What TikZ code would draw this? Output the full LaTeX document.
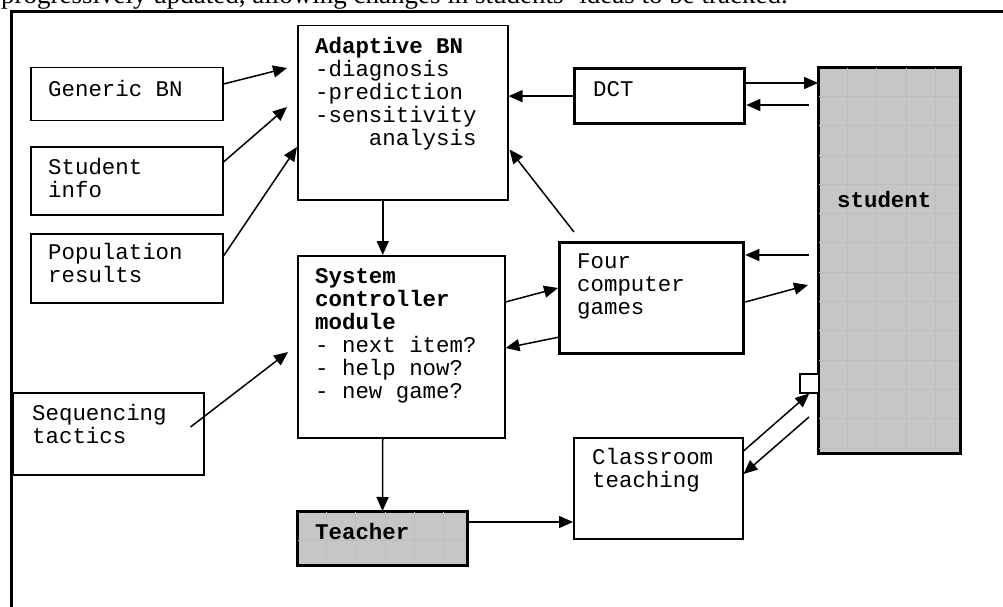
\documentclass[tikz,border=0pt]{standalone}
\usepackage{fontspec}
\setmainfont{Liberation Serif}
\newfontfamily\courfont{Liberation Mono}
\usetikzlibrary{arrows.meta}

\begin{document}
\begin{tikzpicture}[x=1pt,y=-1pt,
    box/.style={draw,line width=1.5pt,anchor=north west,inner sep=0pt},
    thickbox/.style={box,line width=3.3pt},
    greybox/.style={box,line width=2pt,fill=gray!45},
    gridline/.style={draw=gray!52,line width=0.8pt},
    txt/.style={anchor=base west,inner sep=0pt,align=left,
      font=\courfont\fontsize{22.4}{23}\selectfont},
    flow/.style={-{Triangle[length=14pt,width=12pt]},line width=1.5pt}]
  \useasboundingbox (0,0) rectangle (1003,607);
  \clip (0,0) rectangle (1003,607);
  % caption line cut by the top edge
  \node[anchor=base west,inner sep=0pt,font=\fontsize{27}{30}\selectfont] (caption)
    at (1,3.5) {progressively updated, allowing changes in students' ideas to be tracked.};
  \draw[line width=3pt] (11,607) -- (11,11.5) -- (1003,11.5);
  % boxes
  \node[box,minimum width=210pt,minimum height=174pt] (adapt) at (297,25) {};
  \node[box,minimum width=192pt,minimum height=53pt] (generic) at (30,67) {};
  \node[box,minimum width=192pt,minimum height=68pt] (info) at (30,146) {};
  \node[box,minimum width=192pt,minimum height=69pt] (popul) at (30,233) {};
  \node[box,minimum width=207pt,minimum height=182pt] (ctrl) at (297,255) {};
  \node[box,minimum width=191pt,minimum height=82pt] (seq) at (12,392) {};
  \node[box,minimum width=169pt,minimum height=101pt] (class) at (573,437) {};
  \node[thickbox,minimum width=170pt,minimum height=55pt] (dct) at (573,67) {};
  \node[thickbox,minimum width=184pt,minimum height=111pt] (games) at (558,241) {};
  \node[greybox,minimum width=169pt,minimum height=53pt] (teacher) at (297,511) {};
  \node[greybox,minimum width=141pt,minimum height=385pt] (student) at (818,67) {};
  \begin{scope}[shift={(297,511)}]
    \draw[gridline] (1pt,-52pt) grid[step=29.3pt] (168pt,-1pt);
  \end{scope}
  \begin{scope}[shift={(818,67)}]
    \draw[gridline] (1pt,-384pt) grid[step=29.3pt] (140pt,-1pt);
  \end{scope}
  \draw[line width=1.5pt] (teacher.north west) rectangle (teacher.south east);
  \draw[line width=2pt] (student.north west) rectangle (student.south east);
  \node[box,fill=white,minimum width=19pt,minimum height=19pt] (port) at (799,373) {};
  % texts (placed at the baseline of their last line)
  \node[txt] (adapt-t) at (315,145) {\textbf{Adaptive BN}\\-diagnosis\\-prediction\\-sensitivity\\\phantom{----}analysis};
  \node[txt] (generic-t) at (48,97) {Generic BN};
  \node[txt] (info-t) at (48,197) {Student\\info};
  \node[txt] (popul-t) at (48,282) {Population\\results};
  \node[txt] (ctrl-t) at (315,398) {\textbf{System}\\\textbf{controller}\\\textbf{module}\\- next item?\\- help now?\\- new game?};
  \node[txt] (seq-t) at (32,443) {Sequencing\\tactics};
  \node[txt] (teacher-t) at (315,539) {\textbf{Teacher}};
  \node[txt] (dct-t) at (593,97) {DCT};
  \node[txt] (games-t) at (577,314) {Four\\computer\\games};
  \node[txt] (student-t) at (837,207) {\textbf{student}};
  \node[txt] (class-t) at (592,487) {Classroom\\teaching};
  % arrow end points
  \coordinate (dctA) at ([yshift=-16pt]dct.north east);
  \coordinate (dctB) at ([yshift=-38pt]dct.north east);
  \coordinate (gmA) at ([yshift=-14pt]games.north east);
  \coordinate (gmB) at ([yshift=-61pt]games.north east);
  \coordinate (stB) at ([xshift=-10pt,yshift=-218pt]student.north west);
  \coordinate (stC) at ([xshift=-9pt,yshift=-350pt]student.north west);
  \coordinate (tchA) at ([yshift=-11pt]teacher.north east);
  \begin{scope}[flow]
    \draw ([yshift=-17pt]generic.north east) -- ([xshift=-10pt,yshift=-43pt]adapt.north west);
    \draw ([yshift=-16pt]info.north east) -- ([xshift=-10pt,yshift=-82pt]adapt.north west);
    \draw ([yshift=-23pt]popul.north east) -- ([yshift=-122pt]adapt.north west);
    \draw ([xshift=-20pt]adapt.south) -- ([xshift=-18.5pt]ctrl.north);
    \draw (dct.west) -- (dct.west -| adapt.east);
    \draw (dctA) -- (dctA -| student.west);
    \draw[shorten <=9pt] (dctB -| student.west) -- (dctB);
    \draw ([xshift=16pt,yshift=9pt]games.north west) -- ([xshift=1pt,yshift=51pt]adapt.south east);
    \draw[shorten <=9pt] (gmA -| student.west) -- (gmA);
    \draw (gmB) -- (stB);
    \draw ([yshift=-47pt]ctrl.north east) -- ([yshift=-47pt]games.north west);
    \draw ([yshift=18pt]games.south west) -- ([yshift=-93pt]ctrl.north east);
    \draw ([xshift=-14pt,yshift=-35pt]seq.north east) -- ([xshift=-9pt,yshift=-97pt]ctrl.north west);
    \draw ([xshift=-18.5pt]ctrl.south) -- (teacher.north);
    \draw (tchA) -- (tchA -| class.west);
    \draw ([yshift=-14pt]class.north east) -- (port.south);
    \draw (stC) -- ([yshift=-37pt]class.north east);
  \end{scope}
\end{tikzpicture}
\end{document}
